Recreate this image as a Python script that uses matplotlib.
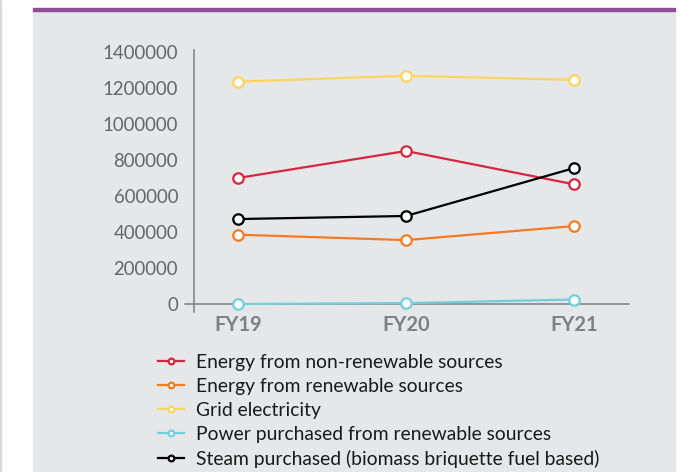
# Energy consumption by source, FY19-FY21

import matplotlib
matplotlib.use('Agg')
import matplotlib.pyplot as plt
from matplotlib.patches import Rectangle

plt.rcParams['font.family'] = ['Lato', 'DejaVu Sans']

# data
years = ['FY19', 'FY20', 'FY21']
non_renewable = [700000, 850000, 665000]
renewable = [385000, 355000, 433000]
grid = [1235000, 1268000, 1245000]
power_renewable = [0, 5000, 25000]
steam = [472000, 489000, 755000]

labels = ['Energy from non-renewable sources', 'Energy from renewable sources',
          'Grid electricity', 'Power purchased from renewable sources',
          'Steam purchased (biomass briquette fuel based)']
series = [non_renewable, renewable, grid, power_renewable, steam]
colors = ['#d7263d', '#f47b20', '#fdd45e', '#72cfe0', '#000000']

W, H = 691, 472
fig = plt.figure(figsize=(W / 100, H / 100), dpi=100)
fig.patch.set_facecolor('white')

# grey panel + purple top rule
fig.patches.append(Rectangle((33 / W, 0), (675 - 33) / W, 1 - 10 / H,
                             transform=fig.transFigure, color='#e6e7e8', zorder=0))
fig.patches.append(Rectangle((33 / W, 1 - 11 / H), (675 - 33) / W, 2.5 / H,
                             transform=fig.transFigure, color='#8f4c99', zorder=1))
fig.patches.append(Rectangle((0, 0), 1.2 / W, 1, transform=fig.transFigure,
                             color='#d9d9d9', zorder=1))

# axes placed in pixels
left, right, top, bottom = 194, 629, 50, 312
ax = fig.add_axes([left / W, 1 - bottom / H, (right - left) / W, (bottom - top) / H])
ax.set_facecolor('none')
ax.set_zorder(5)

x = range(len(years))
for vals, lab, c in zip(series, labels, colors):
    ax.plot(x, vals, color=c, lw=1.6, marker='o', ms=7.5, mfc='white',
            mec=c, mew=1.6, label=lab, zorder=3)

px_per_unit = 168
px_per_val = 180 / 1_000_000
x0 = 238
ax.set_xlim(-(x0 - left) / px_per_unit, (right - x0) / px_per_unit)
ax.set_ylim(-(bottom - 304) / px_per_val, (304 - top) / px_per_val)

for s in ['top', 'right', 'bottom']:
    ax.spines[s].set_visible(False)
ax.spines['left'].set_color('#888888')
ax.spines['left'].set_linewidth(1.2)
ax.axhline(0, xmin=-9 / (right - left), xmax=1, color='#888888', lw=1.2,
           clip_on=False, zorder=2)

ax.set_yticks(range(0, 1400001, 200000))
ax.set_yticklabels([str(v) for v in range(0, 1400001, 200000)])
ax.set_xticks(list(x))
ax.set_xticklabels(years, fontweight='bold')
ax.tick_params(axis='y', length=0, pad=11.5, labelsize=13.4, labelcolor='#666666')
ax.tick_params(axis='x', length=0, pad=2.5, labelsize=14.5, labelcolor='#808080')

ax.legend(loc='upper left', bbox_to_anchor=(150 / W, 1 - 346 / H),
          bbox_transform=fig.transFigure, frameon=False, fontsize=13.9,
          markerscale=0.55, handlelength=1.35, handletextpad=0.62,
          labelspacing=0.36, borderaxespad=0, labelcolor='#1a1a1a')

fig.savefig('out.png', dpi=100)
